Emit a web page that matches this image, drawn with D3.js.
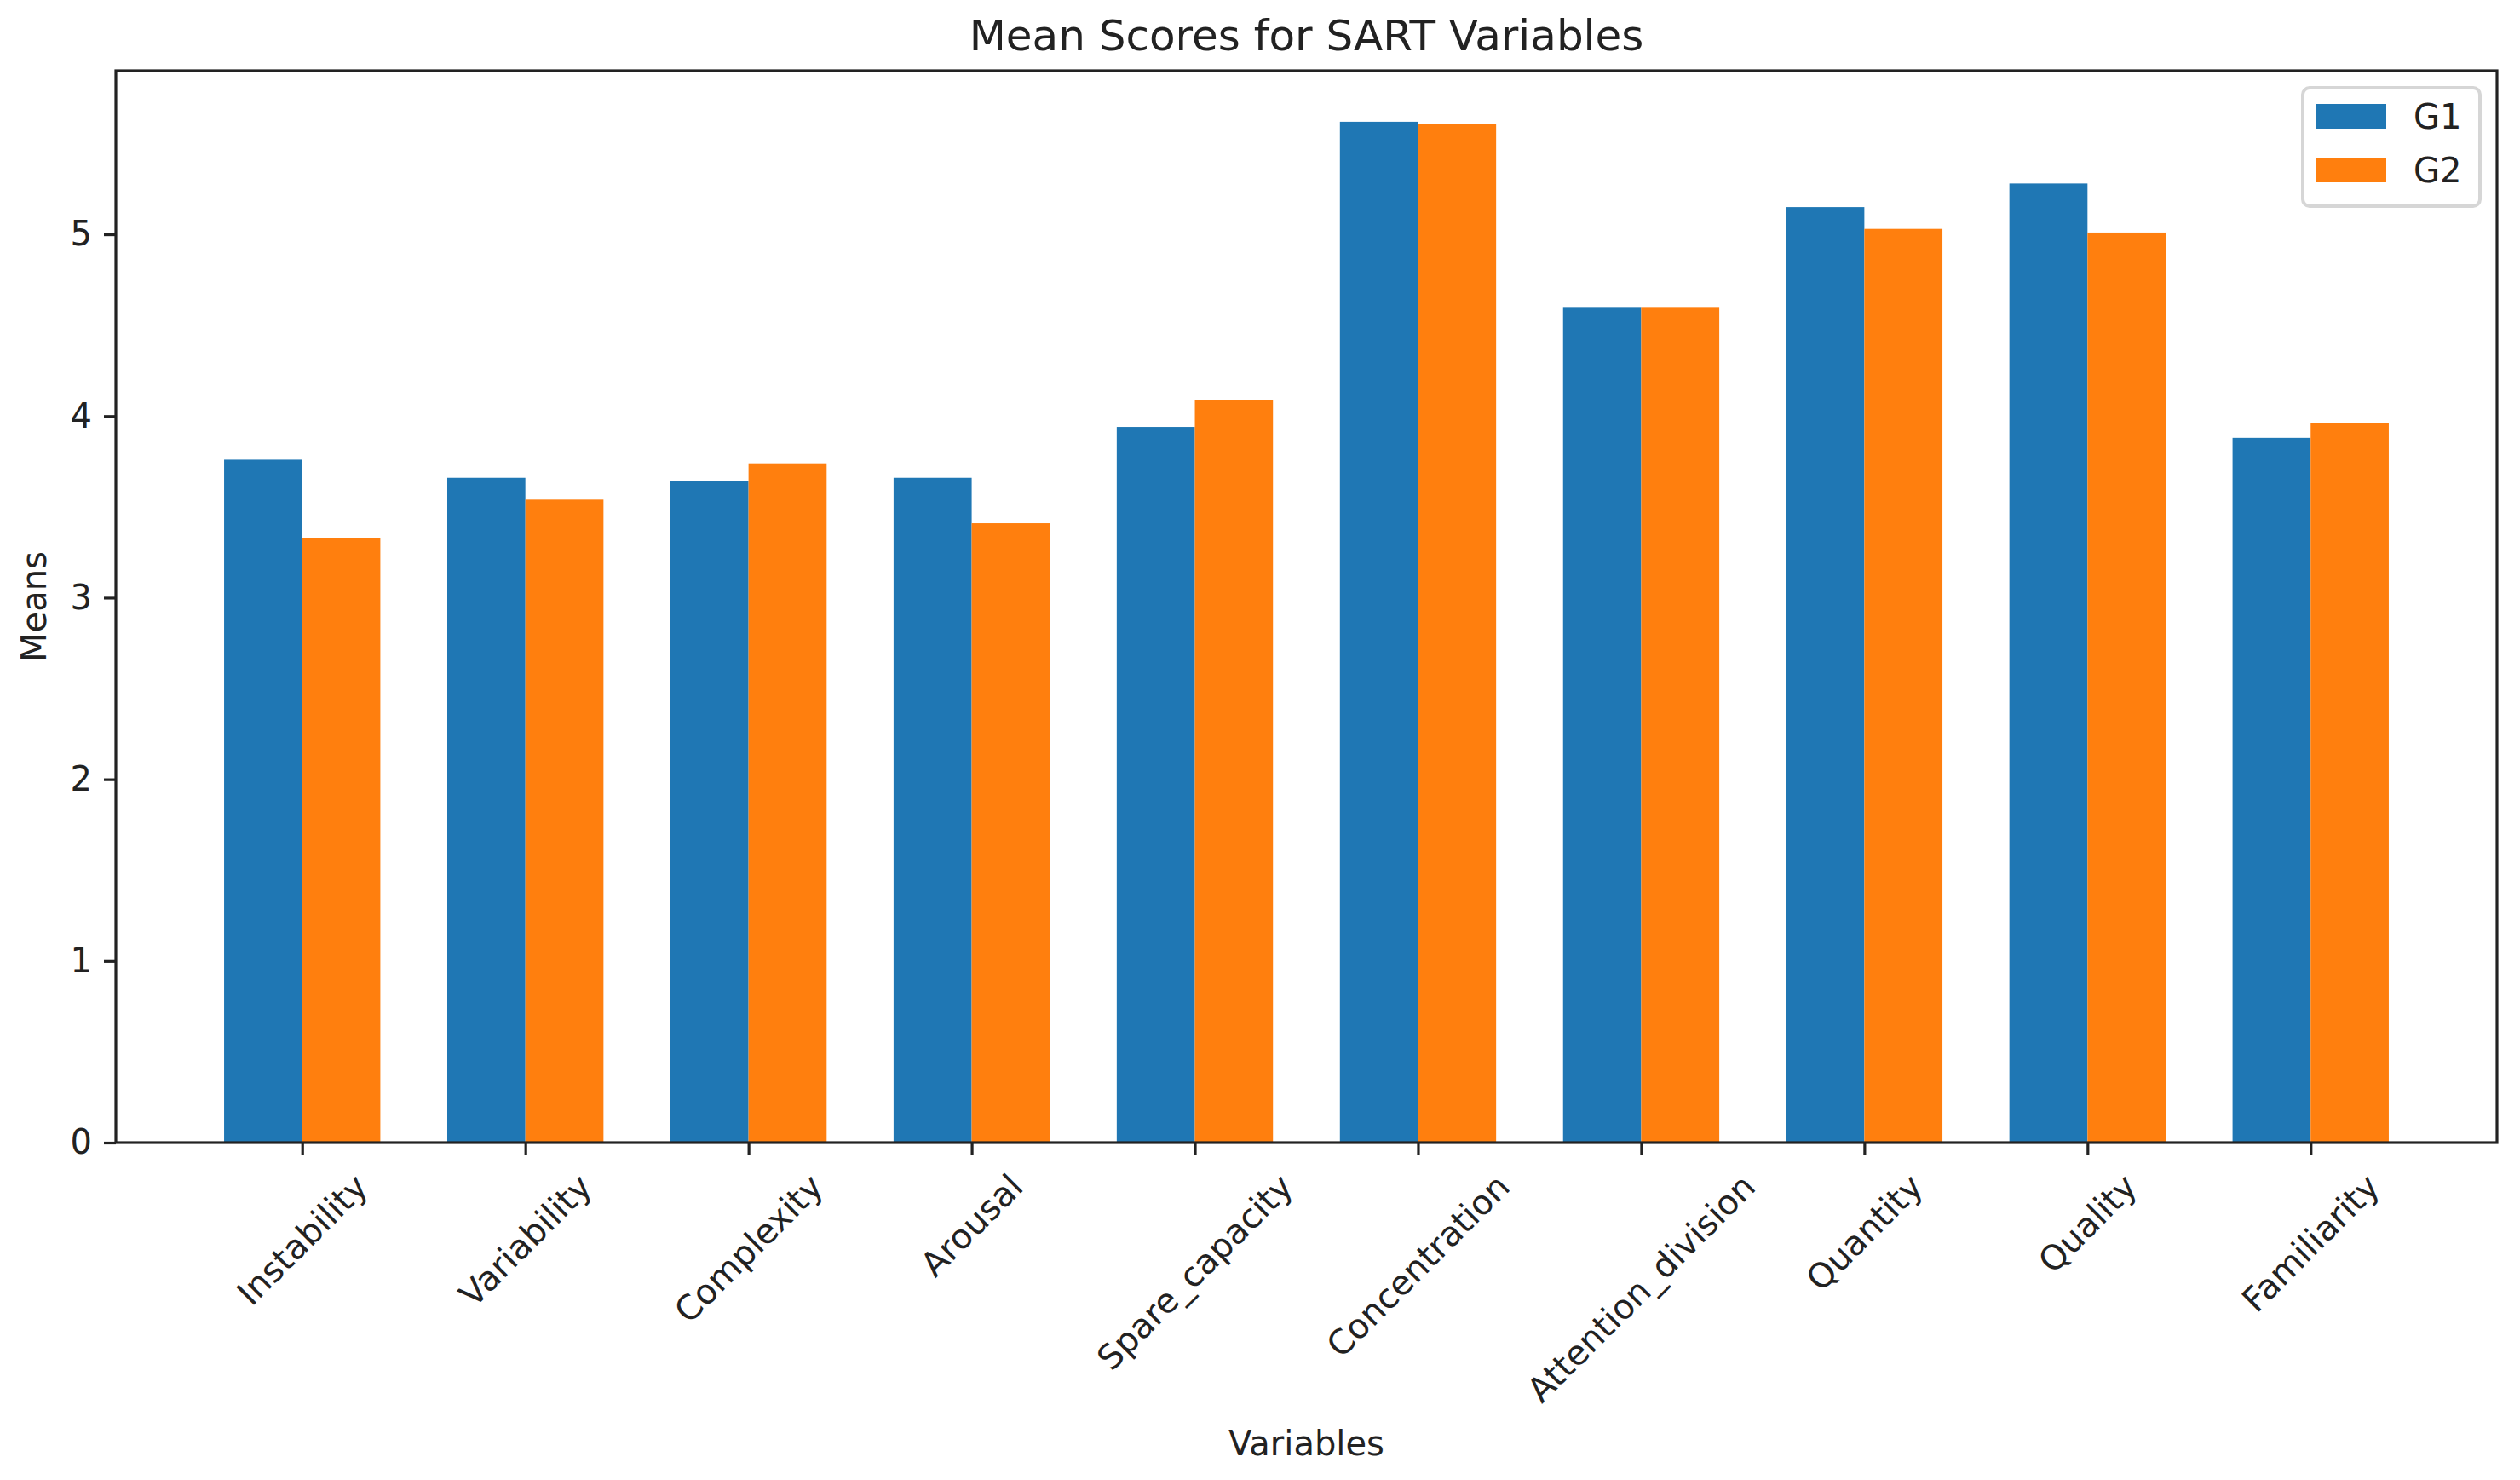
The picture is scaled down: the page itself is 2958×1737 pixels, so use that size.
<!DOCTYPE html>
<html>
<head>
<meta charset="utf-8">
<script src="https://cdn.jsdelivr.net/npm/d3@7"></script>
<style>
  body { margin: 0; background: #fff; }
  svg { display: block; font-family: "DejaVu Sans", sans-serif; }
</style>
</head>
<body>
<svg id="chart"></svg>
<script>
const categories = [
  "Instability",
  "Variability",
  "Complexity",
  "Arousal",
  "Spare_capacity",
  "Concentration",
  "Attention_division",
  "Quantity",
  "Quality",
  "Familiarity",
];
const g1Means = [3.76, 3.66, 3.64, 3.66, 3.94, 5.62, 4.6, 5.15, 5.28, 3.88];
const g2Means = [3.33, 3.54, 3.74, 3.41, 4.09, 5.61, 4.6, 5.03, 5.01, 3.96];
const seriesNames = ["G1", "G2"];
const seriesColors = ["#1f77b4", "#ff7f0e"];
const yTicks = [0, 1, 2, 3, 4, 5];

const width = 2958;
const height = 1737;
const margin = { top: 83, right: 27, bottom: 396, left: 136 };
const barWidth = 0.35;
const fontSize = 40; // 10pt at this scale
const tickLen = 14;
const tickPad = 14;

const svg = d3.select("#chart").attr("width", width).attr("height", height);
svg.append("rect").attr("width", width).attr("height", height).attr("fill", "#fff");

const plotW = width - margin.left - margin.right;
const plotH = height - margin.top - margin.bottom;

// same autoscale as matplotlib: 5% margin on x, bars sticky at 0 on y
const xMin = -barWidth, xMax = categories.length - 1 + barWidth;
const xPad = (xMax - xMin) * 0.05;
const xScale = d3
  .scaleLinear()
  .domain([xMin - xPad, xMax + xPad])
  .range([margin.left, margin.left + plotW]);

const yMax = d3.max(g1Means.concat(g2Means)) * 1.05;
const yScale = d3
  .scaleLinear()
  .domain([0, yMax])
  .range([margin.top + plotH, margin.top]);

const series = [g1Means, g2Means];

// bars
series.forEach((vals, s) => {
  svg
    .append("g")
    .selectAll("rect")
    .data(vals)
    .join("rect")
    .attr("x", (d, i) => xScale(i + (s === 0 ? -barWidth : 0)))
    .attr("width", (d, i) => xScale(i + barWidth) - xScale(i))
    .attr("y", (d) => yScale(d))
    .attr("height", (d) => yScale(0) - yScale(d))
    .attr("fill", seriesColors[s]);
});

// y axis
const yAxis = svg
  .append("g")
  .attr("transform", `translate(${margin.left},0)`)
  .call(d3.axisLeft(yScale).tickValues(yTicks).tickSize(tickLen).tickPadding(tickPad).tickFormat(d3.format("d")));
yAxis.select(".domain").remove();
yAxis.selectAll(".tick line").attr("stroke", "#222").attr("stroke-width", 3.2);
yAxis.selectAll(".tick text").attr("font-size", fontSize).attr("fill", "#222").attr("font-family", "DejaVu Sans");

// x axis, labels rotated 45 like plt.xticks(rotation=45)
const xAxis = svg
  .append("g")
  .attr("transform", `translate(0,${margin.top + plotH})`)
  .call(d3.axisBottom(xScale).tickValues(d3.range(categories.length)).tickSize(tickLen).tickFormat(""));
xAxis.select(".domain").remove();
xAxis.selectAll(".tick line").attr("stroke", "#222").attr("stroke-width", 3.2);

const lineH = fontSize * 1.164;
let labelBottom = 0;
const xLabels = svg.append("g");
categories.forEach((name, i) => {
  const t = xLabels
    .append("text")
    .attr("font-size", fontSize)
    .attr("fill", "#222")
    .attr("text-anchor", "middle")
    .attr("dy", "0.35em")
    .text(name);
  const w = t.node().getComputedTextLength();
  const boxH = (w + lineH) * Math.SQRT1_2;
  const top = margin.top + plotH + tickLen + tickPad;
  t.attr("transform", `translate(${xScale(i)},${top + boxH / 2}) rotate(-45)`);
  labelBottom = Math.max(labelBottom, top + boxH);
});

// frame (spines)
svg
  .append("rect")
  .attr("x", margin.left)
  .attr("y", margin.top)
  .attr("width", plotW)
  .attr("height", plotH)
  .attr("fill", "none")
  .attr("stroke", "#222")
  .attr("stroke-width", 3.2);

// titles
svg
  .append("text")
  .attr("x", margin.left + plotW / 2)
  .attr("y", margin.top - 24)
  .attr("text-anchor", "middle")
  .attr("font-size", 50)
  .attr("fill", "#222")
  .text("Mean Scores for SART Variables");

svg
  .append("text")
  .attr("x", margin.left + plotW / 2)
  .attr("y", labelBottom + 16 + fontSize * 0.93)
  .attr("text-anchor", "middle")
  .attr("font-size", fontSize)
  .attr("fill", "#222")
  .text("Variables");

svg
  .append("text")
  .attr("transform", `translate(40,${margin.top + plotH / 2}) rotate(-90)`)
  .attr("text-anchor", "middle")
  .attr("dy", "0.35em")
  .attr("font-size", fontSize)
  .attr("fill", "#222")
  .text("Means");

// legend, upper right
const legW = 208, legH = 139;
const legend = svg
  .append("g")
  .attr("transform", `translate(${margin.left + plotW - 20 - legW},${margin.top + 20})`);
legend
  .append("rect")
  .attr("width", legW)
  .attr("height", legH)
  .attr("rx", 8)
  .attr("fill", "#fff")
  .attr("fill-opacity", 0.8)
  .attr("stroke", "#d6d6d6")
  .attr("stroke-width", 4);
seriesNames.forEach((name, s) => {
  const row = legend.append("g").attr("transform", `translate(16,${19 + s * 63})`);
  row.append("rect").attr("width", 82).attr("height", 29).attr("fill", seriesColors[s]);
  row
    .append("text")
    .attr("x", 82 + 32)
    .attr("y", 14.5)
    .attr("dy", "0.35em")
    .attr("font-size", fontSize)
    .attr("fill", "#222")
    .text(name);
});
</script>
</body>
</html>
